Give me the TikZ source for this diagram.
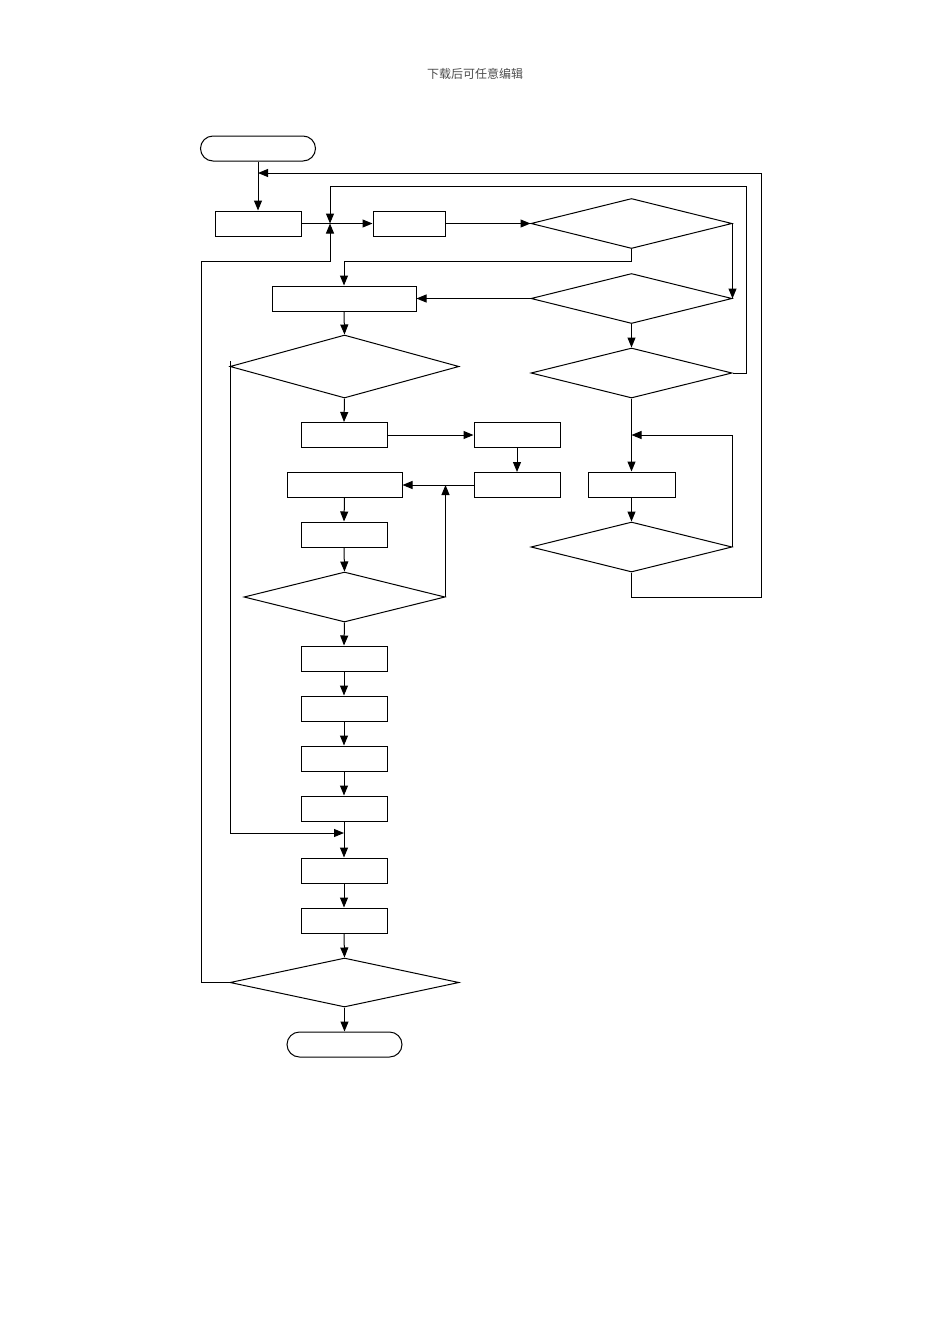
\documentclass[tikz,border=0pt]{standalone}
\usepackage{fontspec}
\newfontfamily\cjk{Noto Sans CJK SC}
\usetikzlibrary{shapes.geometric,arrows.meta}
\begin{document}
\begin{tikzpicture}[x=1pt,y=-1pt,
  every path/.style={line width=1pt},
  box/.style={draw, inner sep=0pt, minimum width=86pt, minimum height=25pt},
  dia/.style={draw, diamond, inner sep=0pt, minimum width=201pt, minimum height=50pt},
  term/.style={draw, rounded corners=12.5pt, inner sep=0pt, minimum width=115pt, minimum height=25pt},
  arr/.style={-{Triangle[length=10pt,width=8pt]}}]
\useasboundingbox (0,0) rectangle (950,1344);
\node[font=\cjk\fontsize{12}{14}\selectfont, text=black!70] (hdr) at (475,74) {下载后可任意编辑};
% nodes
\node[term] (start) at (258,148.5) {};
\node[box] (b1) at (258,223.5) {};
\node[box, minimum width=72pt] (b2) at (409,223.5) {};
\node[dia] (d1) at (631.5,223.5) {};
\node[dia] (d2) at (631.5,298.5) {};
\node[dia] (d3) at (631.5,373) {};
\node[box, minimum width=144pt] (b3) at (344,298.5) {};
\node[dia, minimum width=229pt, minimum height=63pt] (d4) at (344.5,366.5) {};
\node[box] (b4) at (344,435) {};
\node[box] (b5) at (517,435) {};
\node[box] (b6) at (517,485) {};
\node[box, minimum width=115pt] (b7) at (344.5,485) {};
\node[box] (b8) at (344,534.5) {};
\node[dia] (d5) at (344.5,597) {};
\node[box] (b9) at (344,658.5) {};
\node[box] (b10) at (344,708.5) {};
\node[box] (b11) at (344,758.5) {};
\node[box] (b12) at (344,808.5) {};
\node[box] (b13) at (344,870.5) {};
\node[box] (b14) at (344,920.5) {};
\node[dia, minimum width=229pt, minimum height=49pt] (d7) at (344.5,982.5) {};
\node[term] (end) at (344.5,1044.5) {};
\node[box, minimum width=87pt] (bR) at (631.5,484.5) {};
\node[dia] (d6) at (631.5,547) {};
% coordinates
\coordinate (j0) at (258,173);
\coordinate (j1) at (330,223.5);
\coordinate (j2) at (631.5,435);
\coordinate (j3) at (344,833);
\coordinate (k1) at (201,261);
\coordinate (k2) at (746,186);
\coordinate (k3) at (761,597);
\coordinate (k4) at (344,261);
\coordinate (k5) at (230,361);
% connectors
\draw[arr] (start) -- (b1);
\draw[arr] (b1.east) -- (b2.west);
\draw[arr] (b2.east) -- (d1.west);
\draw[arr] (d1.east) -- (d2.east);
\draw[arr] (d1.south) |- (k4) -- (b3.north);
\draw[arr] (d2.west) -- (b3.east);
\draw[arr] (d2.south) -- (d3.north);
\draw[arr] (d3.east) -| (k2) -- (j1 |- k2) -- (j1);
\draw[arr] (d3.south) -- (bR.north);
\draw[arr] (bR.south) -- (d6.north);
\draw[arr] (d6.east) |- (j2);
\draw[arr] (d6.south) |- (k3) -- (k3 |- j0) -- (j0);
\draw[arr] (b3.south) -- (d4.north);
\draw[arr] (d4.south) -- (b4.north);
\draw[arr] (k5) |- (j3);
\draw[arr] (b4.east) -- (b5.west);
\draw[arr] (b5.south) -- (b6.north);
\draw[arr] (b6.west) -- (b7.east);
\draw[arr] (b7.south) -- (b8.north);
\draw[arr] (b8.south) -- (d5.north);
\draw[arr] (d5.east) -- (d5.east |- b7.east);
\draw[arr] (d5.south) -- (b9.north);
\draw[arr] (b9.south) -- (b10.north);
\draw[arr] (b10.south) -- (b11.north);
\draw[arr] (b11.south) -- (b12.north);
\draw[arr] (b12.south) -- (b13.north);
\draw[arr] (b13.south) -- (b14.north);
\draw[arr] (b14.south) -- (d7.north);
\draw[arr] (d7.south) -- (end.north);
\draw[arr] (d7.west) -| (k1) -- (j1 |- k1) -- (j1);
\end{tikzpicture}
\end{document}
